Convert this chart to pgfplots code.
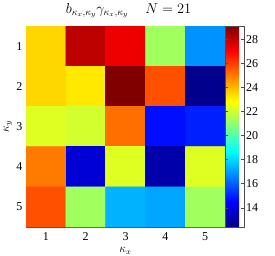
\documentclass[border=0pt]{standalone}
\usepackage{fontspec}
\setmainfont{Liberation Serif}
\usepackage{pgfplots}
\pgfplotsset{compat=1.18}
\begin{document}
\begin{tikzpicture}
\begin{axis}[
  name=main,
  scale only axis, width=199pt, height=201pt,
  xmin=0.5, xmax=5.5, ymin=0.5, ymax=5.5, y dir=reverse,
  xtick={1,...,5}, ytick={1,...,5},
  tick align=inside, major tick length=3pt,
  tick style={black!70, thin},
  axis line style={black!70, thin},
  colormap/jet, point meta min=12.4, point meta max=29.1,
  colorbar,
  colorbar style={width=19pt, at={(1,1)}, anchor=north west, xshift=12pt,
    ytick={14,16,...,28}, tick align=inside, major tick length=3pt,
    tick style={black!70, thin}, axis line style={black!70, thin},
    yticklabel style={font=\fontsize{12}{14}\selectfont, inner sep=0pt, xshift=2pt},
    /pgf/number format/assume math mode=true},
  title={$b_{\kappa_x,\kappa_y}\gamma_{\kappa_x,\kappa_y}\hspace{17pt}N=21$},
  title style={font=\fontsize{14.5}{16}\selectfont, at={(axis description cs:0.5,1)}, anchor=base, yshift=7pt, xshift=3pt, inner sep=0pt},
  xlabel={$\kappa_x$}, ylabel={$\kappa_y$},
  xlabel style={at={(axis description cs:0.5,0)}, anchor=north, yshift=-20.5pt, inner sep=0pt},
  ylabel style={at={(axis description cs:0,0.5)}, anchor=center, yshift=18pt, inner sep=0pt},
  label style={font=\fontsize{12}{14}\selectfont},
  /pgf/number format/assume math mode=true,
  tick label style={font=\fontsize{12}{14}\selectfont},
  yticklabel style={inner sep=0pt, xshift=-3.5pt},
  xticklabel style={inner sep=0pt, yshift=-5pt},
]
\addplot[matrix plot*, mesh/cols=5, point meta=explicit] table[meta=C] {
x y C
1 1 23.5
2 1 28.1
3 1 27.3
4 1 21.3
5 1 16.9
1 2 23.5
2 2 23.2
3 2 29.1
4 2 25.7
5 2 12.6
1 3 22.3
2 3 22.1
3 3 25.2
4 3 14.7
5 3 15.0
1 4 25.0
2 4 13.8
3 4 22.3
4 4 13.1
5 4 22.3
1 5 25.7
2 5 21.3
3 5 17.4
4 5 17.2
5 5 21.3
};
\end{axis}
\pgfresetboundingbox
\path ([xshift=-26pt,yshift=-29pt]main.south west) rectangle ([xshift=50pt,yshift=26pt]main.north east);
\end{tikzpicture}
\end{document}
